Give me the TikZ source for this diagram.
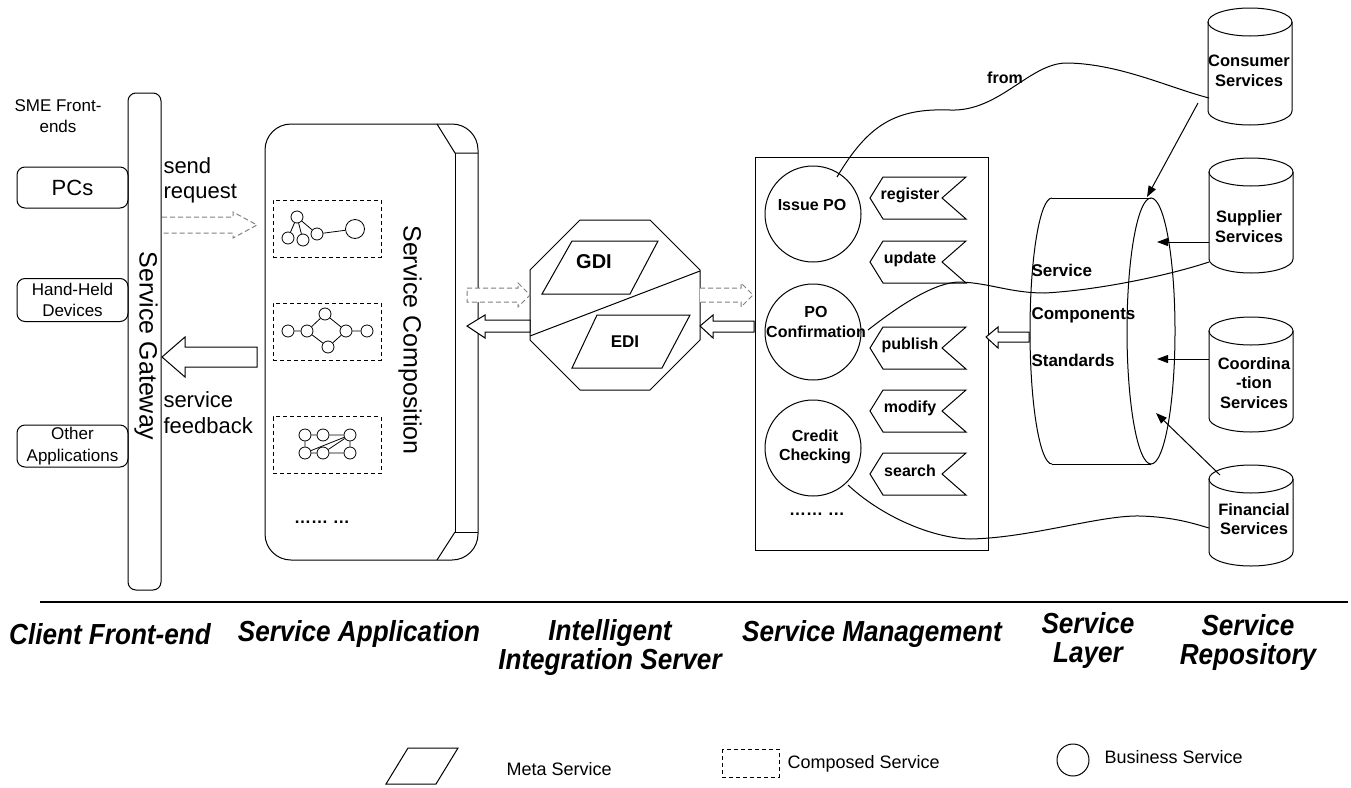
\documentclass[tikz,border=0pt]{standalone}
\usepackage{fontspec}
\setmainfont{Liberation Sans}
\newfontfamily\condensedfont[FakeStretch=0.9]{Liberation Sans}
\usetikzlibrary{arrows.meta}

\tikzset{
  every node/.style={inner sep=0pt, align=center},
  reg17/.style={font=\fontsize{17}{21.5}\selectfont},
  reg22/.style={font=\fontsize{22}{26}\selectfont},
  reg25/.style={font=\fontsize{25}{30}\selectfont},
  bd16/.style={font=\fontsize{16}{19.5}\selectfont\bfseries},
  bd17/.style={font=\fontsize{17}{20}\selectfont\bfseries},
  bd20/.style={font=\fontsize{20}{24}\selectfont\bfseries},
  layerlbl/.style={font=\condensedfont\fontsize{29}{29}\selectfont\bfseries\itshape},
  legendtxt/.style={font=\fontsize{18}{22}\selectfont, anchor=west},
  frontbox/.style={draw, rounded corners=8pt, minimum width=111pt},
  bizsvc/.style={circle, draw, minimum size=96pt},
  compbox/.style={draw, dashed, dash pattern=on 4pt off 3pt, minimum width=108pt, minimum height=57pt},
  gc/.style={circle, draw, fill=white, minimum size=12pt, line width=0.8pt},
  blockarrow/.style={draw, fill=white, line join=miter},
  dashedarrow/.style={draw=gray, fill=white, dash pattern=on 5pt off 3pt, line join=miter},
  feed/.style={-{Triangle[length=11pt,width=8pt]}},
}

% operation tag: name, vertical centre, label
\newcommand{\opflag}[3]{%
  \draw (870,#2) -- (883,#2-21) -- (966,#2-21) -- (942,#2) -- (966,#2+21) -- (883,#2+21) -- cycle;
  \node[bd16] (#1) at (910,#2-3) {#3};}

% vertical repository cylinder: name, centre x, top y, bottom y
\newcommand{\repocyl}[4]{%
  \draw (#2-42,#3) -- (#2-42,#4) arc[start angle=180, end angle=0, x radius=42pt, y radius=14pt] -- (#2+42,#3);
  \draw (#2,#3) ellipse [x radius=42pt, y radius=14pt];
  \coordinate (#1) at (#2,#3/2+#4/2);}

\begin{document}
\begin{tikzpicture}[x=1pt, y=1pt, yscale=-1, line width=1pt]
\useasboundingbox (0,0) rectangle (1351,787);

% ---------------- client front-end ----------------
\node[reg17] (sme) at (58,116) {SME Front-\\ends};
\node[frontbox, minimum height=41pt, font=\fontsize{22}{26}\selectfont] (pcs) at (72.5,187.5) {PCs};
\node[frontbox, minimum height=43pt, reg17] (hand) at (72.5,300) {Hand-Held\\Devices};
\node[frontbox, minimum height=42pt, reg17] (other) at (72.5,446) {Other\\Applications};

\node[draw, rounded corners=8pt, minimum width=33pt, minimum height=497pt] (gw) at (144.5,341.5) {};
\node[reg25, rotate=-90] (gwlbl) at (146,346) {Service Gateway};

\node[reg22, anchor=west, align=left, font=\fontsize{22}{25}\selectfont] (send) at (163,180) {send\\request};
\node[reg22, anchor=west, align=left, font=\fontsize{22}{26}\selectfont] (fb) at (163,413) {service\\feedback};

\draw[dashedarrow] (162,217) -- (233,217) -- (233,212) -- (257,225) -- (233,238) -- (233,233) -- (162,233);
\draw[blockarrow] (162,357) -- (185,337) -- (185,347) -- (257,347) -- (257,367) -- (185,367) -- (185,377) -- cycle;

% ---------------- service composition ----------------
\draw[rounded corners=26pt] (265,124) rectangle (478,560);
\draw (437,124) -- (455,153) -- (478,153);
\draw (455,153) -- (455,532) -- (478,532);
\draw (455,532) -- (437,560);
\node[reg25, rotate=-90] (complbl) at (410,340) {Service Composition};

\node[compbox] (cs1) at (327,228.5) {};
\node[compbox] (cs2) at (327,331.5) {};
\node[compbox] (cs3) at (327,445) {};

% first composed service
\node[gc] (a1) at (297,217) {};
\node[gc] (a2) at (288,238) {};
\node[gc] (a3) at (303,240) {};
\node[gc] (a4) at (317,234) {};
\node[gc, minimum size=19pt] (a5) at (355,229) {};
\draw[line width=0.8pt] (a1) -- (a2) (a1) -- (a3) (a1) -- (a4) (a4) -- (a5);

% second composed service
\node[gc] (b1) at (288,331) {};
\node[gc] (b2) at (307,331) {};
\node[gc] (b3) at (325,314) {};
\node[gc] (b4) at (328,347) {};
\node[gc] (b5) at (346,331) {};
\node[gc] (b6) at (367,331) {};
\draw[line width=0.8pt] (b1) -- (b2) (b2) -- (b3) (b2) -- (b4) (b3) -- (b5) (b4) -- (b5) (b5) -- (b6);

% third composed service
\node[gc] (c1) at (305,435) {};
\node[gc] (c2) at (323,435) {};
\node[gc] (c3) at (350,435) {};
\node[gc] (c4) at (305,453) {};
\node[gc] (c5) at (323,453) {};
\node[gc] (c6) at (350,453) {};
\draw[line width=0.8pt] (c1) -- (c2) (c2) -- (c3) (c4) -- (c5) (c5) -- (c6) (c1) -- (c4) (c3) -- (c6) (c4) -- (c3) (c5) -- (c3);

\node[font=\fontsize{17}{20}\selectfont\bfseries] (compdots) at (322,522) {\dots\dots\ \dots};

% ---------------- intelligent integration server ----------------
\draw (580,220) -- (650,220) -- (700,270) -- (700,340) -- (650,390) -- (580,390) -- (530,340) -- (530,270) -- cycle;
\draw (530,336) -- (700,271);
\draw (572,241) -- (658,241) -- (630,294) -- (542,294) -- cycle;
\node[bd20] (gdi) at (594,262) {GDI};
\draw (597,315) -- (690,315) -- (662,368) -- (572,368) -- cycle;
\node[bd17] (edi) at (625,342) {EDI};

\draw[dashedarrow] (467,288) -- (518,288) -- (518,283) -- (530,295) -- (518,307) -- (518,302) -- (467,302) -- cycle;
\draw[blockarrow] (467,326) -- (485,315) -- (485,320) -- (530,320) -- (530,332) -- (485,332) -- (485,338) -- cycle;
\draw[dashedarrow] (700,288) -- (741,288) -- (741,283) -- (753,295) -- (741,307) -- (741,302) -- (700,302);
\draw[blockarrow] (700,326) -- (713,315) -- (713,321) -- (754,321) -- (754,332) -- (713,332) -- (713,338) -- cycle;

% ---------------- service management ----------------
\node[draw, minimum width=233pt, minimum height=393pt] (mgmt) at (871.5,353.5) {};
\node[bizsvc] (issue) at (813,214) {};
\node[bizsvc] (pocf) at (813,332) {};
\node[bizsvc] (credit) at (813,448) {};
\node[bd16] (issuelbl) at (812,205) {Issue PO};
\node[bd16, font=\fontsize{16}{20}\selectfont\bfseries] (pocflbl) at (816,322) {PO\\Confirmation};
\node[bd16, font=\fontsize{16}{19}\selectfont\bfseries] (creditlbl) at (815,447) {Credit\\Checking};

\opflag{register}{198}{register}
\opflag{update}{262}{update}
\opflag{publish}{348}{publish}
\opflag{modify}{411}{modify}
\opflag{search}{474}{search}

\node[font=\fontsize{17}{20}\selectfont\bfseries] (mgmtdots) at (817,514) {\dots\dots\ \dots};

\draw[blockarrow] (986,337) -- (998,327) -- (998,332) -- (1029,332) -- (1029,342) -- (998,342) -- (998,348) -- cycle;

% ---------------- service layer ----------------
\draw (1052,198) -- (1151,198);
\draw (1052,464) -- (1151,464);
\draw (1052,198) arc[start angle=-90, end angle=-270, x radius=22pt, y radius=133pt];
\draw (1151,331) ellipse [x radius=24pt, y radius=133pt];
\node[bd17, anchor=west] (sl1) at (1031,270) {Service};
\node[bd17, anchor=west] (sl2) at (1031,315) {Components};
\node[bd17, anchor=west] (sl3) at (1031,360) {Standards};

% ---------------- service repository ----------------
\repocyl{cons}{1250}{22}{111}
\repocyl{supp}{1251}{172}{259}
\repocyl{coord}{1251}{331}{418}
\repocyl{fin}{1251}{479}{552}
\node[font=\fontsize{16.5}{20}\selectfont\bfseries] (conslbl) at (1249,71) {Consumer\\Services};
\node[font=\fontsize{16.5}{20}\selectfont\bfseries] (supplbl) at (1249,227) {Supplier\\Services};
\node[font=\fontsize{16.5}{19.5}\selectfont\bfseries] (coordlbl) at (1254,383) {Coordina\\-tion\\Services};
\node[font=\fontsize{16.5}{19}\selectfont\bfseries] (finlbl) at (1254,519) {Financial\\Services};

% attachment points of the connectors
\coordinate (cons-a) at (1198,103);
\coordinate (cons-b) at (1209,98);
\coordinate (supp-a) at (1209,242);
\coordinate (supp-b) at (1209,262);
\coordinate (coord-a) at (1209,359);
\coordinate (fin-a) at (1220,475);
\coordinate (fin-b) at (1209,528);
\coordinate (sl-top) at (1147,197);
\coordinate (sl-s) at (1157,242);
\coordinate (sl-c) at (1157,359);
\coordinate (sl-f) at (1156,413);
\coordinate (issue-o) at (837,177);
\coordinate (pocf-o) at (868,330);
\coordinate (credit-o) at (848,485);

\draw[feed] (cons-a) -- (sl-top);
\draw[feed] (supp-a) -- (sl-s);
\draw[feed] (coord-a) -- (sl-c);
\draw[feed] (fin-a) -- (sl-f);

\draw (issue-o) .. controls (868,125) and (895,108) .. (950,110)
      .. controls (1000,112) and (1030,62) .. (1068,63)
      .. controls (1120,64) and (1170,88) .. (cons-b);
\draw (pocf-o) .. controls (900,305) and (935,282) .. (960,282)
      .. controls (990,283) and (1010,293) .. (1045,293)
      .. controls (1100,290) and (1170,275) .. (supp-b);
\draw (credit-o) .. controls (880,515) and (930,538) .. (970,539)
      .. controls (1030,538) and (1100,515) .. (1140,516)
      .. controls (1175,517) and (1195,524) .. (fin-b);
\node[bd16] (fromlbl) at (1005,78) {from};

% ---------------- layer captions ----------------
\draw[line width=1.2pt] (40,602) -- (1348,602);
\node[layerlbl] (cap1) at (110,634) {Client Front-end};
\node[layerlbl] (cap2) at (359,634) {Service Application};
\node[layerlbl, font=\condensedfont\fontsize{29}{29}\selectfont\bfseries\itshape] (cap3) at (610,647) {Intelligent\\Integration Server};
\node[layerlbl] (cap4) at (872,634) {Service Management};
\node[layerlbl] (cap5) at (1088,640) {Service\\Layer};
\node[layerlbl] (cap6) at (1248,642) {Service\\Repository};

% ---------------- legend ----------------
\draw (408,748) -- (458,748) -- (436,784) -- (386,784) -- cycle;
\node[legendtxt] (leg1) at (506,769) {Meta Service};
\draw[dashed, dash pattern=on 4pt off 3pt] (722,749) rectangle (779,777);
\node[legendtxt] (leg2) at (787,764) {Composed Service};
\node[circle, draw, minimum size=32pt] (legc) at (1073,760) {};
\node[legendtxt] (leg3) at (1104,757) {Business Service};
\end{tikzpicture}
\end{document}
